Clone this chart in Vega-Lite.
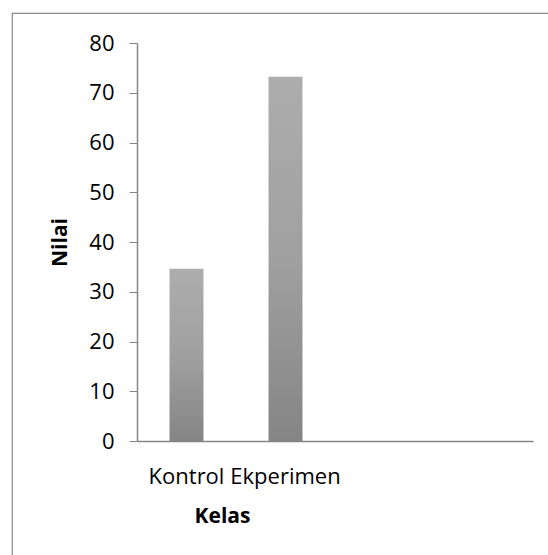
{
  "$schema": "https://vega.github.io/schema/vega-lite/v6.json",
  "width": 560,
  "height": 560,
  "autosize": {"type": "none"},
  "padding": {"left": 12, "top": 13, "right": 0, "bottom": 0},
  "background": "white",
  "config": {
    "view": {"stroke": "#8a8a8a", "strokeWidth": 1.2},
    "font": "Open Sans"
  },
  "data": {
    "values": [
      {"Kelas": "Kontrol", "Nilai": 34.6},
      {"Kelas": "Ekperimen", "Nilai": 73.2}
    ]
  },
  "mark": {
    "type": "bar",
    "color": {
      "gradient": "linear",
      "x1": 0, "y1": 0, "x2": 0, "y2": 1,
      "stops": [
        {"offset": 0, "color": "#adadad"},
        {"offset": 0.5, "color": "#a0a0a0"},
        {"offset": 1, "color": "#858585"}
      ]
    }
  },
  "encoding": {
    "x": {
      "field": "Kelas",
      "type": "nominal",
      "sort": null,
      "scale": {"domain": ["Kontrol", "Ekperimen", " ", "  "], "range": [125, 521], "paddingInner": 0.657, "paddingOuter": 0.3285},
      "axis": {
        "title": "Kelas",
        "offset": -132,
        "labelAngle": 0,
        "labelFont": "Open Sans",
        "labelFontSize": 22,
        "labelColor": "#000000",
        "labelPadding": 25,
        "labelBaseline": "top",
        "ticks": false,
        "domainColor": "#868686",
        "domainWidth": 1.5,
        "titleFont": "Open Sans",
        "titleFontSize": 21,
        "titleFontWeight": "bold",
        "titleColor": "#000000",
        "titleX": 210,
        "titleY": 81,
        "titleBaseline": "alphabetic",
        "titleAnchor": null,
        "titleAlign": "center"
      }
    },
    "y": {
      "field": "Nilai",
      "type": "quantitative",
      "scale": {"domain": [0, 80], "nice": false, "range": [428, 30]},
      "axis": {
        "title": "Nilai",
        "offset": -125,
        "values": [0, 10, 20, 30, 40, 50, 60, 70, 80],
        "grid": false,
        "labelFont": "Open Sans",
        "labelFontSize": 22,
        "labelColor": "#000000",
        "labelPadding": 15,
        "tickSize": 8,
        "tickColor": "#868686",
        "domainColor": "#868686",
        "domainWidth": 1.5,
        "titleFont": "Open Sans",
        "titleFontSize": 21,
        "titleFontWeight": "bold",
        "titleColor": "#000000",
        "titleAngle": -90,
        "titleX": -77,
        "titleY": 229,
        "titleAlign": "center",
        "titleBaseline": "middle"
      }
    }
  }
}
